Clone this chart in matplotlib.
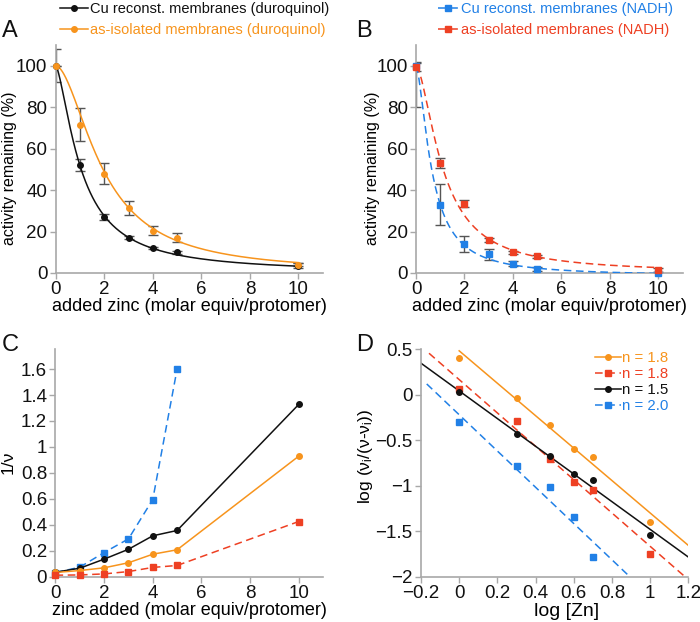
import numpy as np
import matplotlib
matplotlib.use('Agg')
import matplotlib.pyplot as plt
from matplotlib.lines import Line2D

plt.rcParams['font.family'] = ['Liberation Sans', 'DejaVu Sans']
plt.rcParams['mathtext.fontset'] = 'custom'
plt.rcParams['mathtext.rm'] = 'Liberation Sans'
plt.rcParams['mathtext.it'] = 'Liberation Sans:italic'

# ---------------- data ----------------
zinc = [0, 1, 2, 3, 4, 5, 10]

# Panel A (duroquinol)
cu_duro = [100, 52, 27, 17, 12, 10, 3.5]
cu_duro_err = [8, 3, 1.5, 0.8, 0.6, 0.7, 1.2]
iso_duro = [100, 71.5, 48, 31.5, 20.5, 17, 4]
iso_duro_err = [0, 8, 5, 3.3, 2.2, 2.2, 0.8]
# Hill fit parameters (top, bottom, IC50, n)
fit_cu_duro = (100, 0, 1.05, 1.5)
fit_iso_duro = (100, 0, 1.95, 1.8)

# Panel B (NADH)
cu_nadh = [100, 33, 14, 9, 4.5, 2, 0]
cu_nadh_err_lo = [20, 10, 4, 2.5, 1.3, 0.8, 0.3]
cu_nadh_err_hi = [2, 10, 4, 2.5, 1.3, 0.8, 0.3]
iso_nadh = [99.5, 53, 33.5, 16, 10, 8, 1.5]
iso_nadh_err = [2, 2.5, 1.5, 1, 0.7, 0.6, 0.8]
fit_cu_nadh = (100, -1.5, 0.66, 1.6)
fit_iso_nadh = (100, 0, 1.12, 1.65)

# Panel C (1/v)
c_black = [0.033, 0.064, 0.134, 0.21, 0.314, 0.355, 1.327]
c_orange = [0.031, 0.046, 0.067, 0.106, 0.172, 0.206, 0.928]
c_red = [0.01, 0.012, 0.02, 0.038, 0.07, 0.085, 0.424]
zinc_blue = [0, 1, 2, 3, 4, 5]
c_blue = [0.03, 0.072, 0.185, 0.29, 0.594, 1.6]

# Panel D (Hill plot)
logzn = [0, 0.301, 0.477, 0.602, 0.699, 1.0]
d_orange = [0.398, -0.035, -0.33, -0.6, -0.686, -1.40]
d_red = [0.061, -0.29, -0.71, -0.957, -1.05, -1.75]
d_black = [0.031, -0.437, -0.68, -0.869, -0.942, -1.54]
logzn_blue = [0, 0.301, 0.477, 0.602, 0.699]
d_blue = [-0.305, -0.785, -1.01, -1.35, -1.78]
# linear fits: (slope, intercept, x_start, x_end)
fitD_orange = (-1.78, 0.48, 0.0, 1.2)
fitD_red = (-1.83, 0.164, -0.158, 1.2)
fitD_black = (-1.52, 0.04, -0.2, 1.2)
fitD_blue = (-1.99, -0.222, -0.17, 0.9)
d_labels = ['n = 1.8', 'n = 1.8', 'n = 1.5', 'n = 2.0']

legA = ['Cu reconst. membranes (duroquinol)', 'as-isolated membranes (duroquinol)']
legB = ['Cu reconst. membranes (NADH)', 'as-isolated membranes (NADH)']

# ---------------- style ----------------
ORANGE = '#F7941D'
RED = '#EE4023'
BLUE = '#2180E6'
BLACK = '#111111'
AXGRAY = '#A8A8A8'
ERR = '#555555'
DASH = (0, (5, 3))
TICK_FS = 13.5
LAB_FS = 13


def hill(x, p):
    top, bottom, ic50, n = p
    return bottom + (top - bottom) / (1 + (x / ic50) ** n)


def style(ax):
    for s in ['top', 'right']:
        ax.spines[s].set_visible(False)
    for s in ['left', 'bottom']:
        ax.spines[s].set_color(AXGRAY)
        ax.spines[s].set_linewidth(1.2)
    ax.tick_params(direction='out', length=4, width=1, color=AXGRAY,
                   labelsize=TICK_FS, pad=2, labelcolor='#111111')


W, H = 700, 622
fig = plt.figure(figsize=(7, 6.22), dpi=100)


def px_axes(l, t, r, b):
    return fig.add_axes([l / W, 1 - b / H, (r - l) / W, (b - t) / H])


axA = px_axes(55.7, 45, 322.7, 273)
axB = px_axes(416, 45, 682.7, 273)
axC = px_axes(55.5, 349, 323, 576.5)
axD = px_axes(421, 349, 688.3, 576.7)

xs = np.linspace(0, 10, 500)

# ---- A ----
ax = axA
style(ax)
ax.errorbar(zinc, cu_duro, yerr=cu_duro_err, fmt='none', ecolor=ERR,
            elinewidth=1, capsize=3.5, capthick=1, zorder=2)
ax.errorbar(zinc, iso_duro, yerr=iso_duro_err, fmt='none', ecolor=ERR,
            elinewidth=1, capsize=3.5, capthick=1, zorder=2)
ax.plot(xs, hill(xs, fit_cu_duro), color=BLACK, lw=1.1, zorder=3)
ax.plot(xs, hill(xs, fit_iso_duro), color=ORANGE, lw=1.1, zorder=3)
ax.plot(zinc, cu_duro, 'o', color=BLACK, ms=4, zorder=4, clip_on=False)
ax.plot(zinc, iso_duro, 'o', color=ORANGE, ms=4, zorder=4, clip_on=False)
ax.set_xlim(0, 11)
ax.set_ylim(0, 110)
ax.set_xticks([0, 2, 4, 6, 8, 10])
ax.set_yticks([0, 20, 40, 60, 80, 100])
ax.set_xlabel('added zinc (molar equiv/protomer)', fontsize=LAB_FS, labelpad=0)
ax.set_ylabel('activity remaining (%)', fontsize=11.5)
ax.yaxis.set_label_coords(-0.145, 0.46)

hA = [Line2D([0], [0], color=BLACK, lw=1.1, marker='o', ms=4),
      Line2D([0], [0], color=ORANGE, lw=1.1, marker='o', ms=4)]
lg = fig.legend(hA, legA, loc='upper left', bbox_to_anchor=(60 / W, 1 - 2 / H),
                frameon=False, fontsize=10.5, handlelength=1.9, handletextpad=0.15,
                borderpad=0, borderaxespad=0, labelspacing=0.5)
for t, c in zip(lg.get_texts(), [BLACK, ORANGE]):
    t.set_color(c)

# ---- B ----
ax = axB
style(ax)
ax.errorbar(zinc, cu_nadh, yerr=[cu_nadh_err_lo, cu_nadh_err_hi], fmt='none',
            ecolor=ERR, elinewidth=1, capsize=3.5, capthick=1, zorder=2)
ax.errorbar(zinc, iso_nadh, yerr=iso_nadh_err, fmt='none', ecolor=ERR,
            elinewidth=1, capsize=3.5, capthick=1, zorder=2)
ax.plot(xs, hill(xs, fit_cu_nadh), color=BLUE, lw=1.1, ls=DASH, zorder=3)
ax.plot(xs, hill(xs, fit_iso_nadh), color=RED, lw=1.1, ls=DASH, zorder=3)
ax.plot(zinc, cu_nadh, 's', color=BLUE, ms=4.2, zorder=4, clip_on=False)
ax.plot(zinc, iso_nadh, 's', color=RED, ms=4.2, zorder=4, clip_on=False)
ax.set_xlim(0, 11)
ax.set_ylim(0, 110)
ax.set_xticks([0, 2, 4, 6, 8, 10])
ax.set_yticks([0, 20, 40, 60, 80, 100])
ax.set_xlabel('added zinc (molar equiv/protomer)', fontsize=LAB_FS, labelpad=0)
ax.set_ylabel('activity remaining (%)', fontsize=11.5)
ax.yaxis.set_label_coords(-0.135, 0.46)

hB = [Line2D([0], [0], color=BLUE, lw=1.1, ls=DASH, marker='s', ms=4),
      Line2D([0], [0], color=RED, lw=1.1, ls=DASH, marker='s', ms=4)]
lg = fig.legend(hB, legB, loc='upper left', bbox_to_anchor=(438 / W, 1 - 2 / H),
                frameon=False, fontsize=10.5, handlelength=1.4, handletextpad=0.15,
                borderpad=0, borderaxespad=0, labelspacing=0.5)
for t, c in zip(lg.get_texts(), [BLUE, RED]):
    t.set_color(c)

# ---- C ----
ax = axC
style(ax)
ax.plot(zinc_blue, c_blue, color=BLUE, lw=1.1, ls=DASH, marker='s', ms=4.2,
        zorder=3, clip_on=False)
ax.plot(zinc, c_black, color=BLACK, lw=1.1, marker='o', ms=4, zorder=4, clip_on=False)
ax.plot(zinc, c_orange, color=ORANGE, lw=1.1, marker='o', ms=4, zorder=4, clip_on=False)
ax.plot(zinc, c_red, color=RED, lw=1.1, ls=DASH, marker='s', ms=4.2, zorder=4,
        clip_on=False)
ax.set_xlim(0, 11)
ax.set_ylim(0, 1.755)
ax.set_xticks([0, 2, 4, 6, 8, 10])
yt = [0, 0.2, 0.4, 0.6, 0.8, 1.0, 1.2, 1.4, 1.6]
ax.set_yticks(yt)
ax.set_yticklabels(['0', '0.2', '0.4', '0.6', '0.8', '1', '1.2', '1.4', '1.6'])
ax.set_xlabel('zinc added (molar equiv/protomer)', fontsize=LAB_FS, labelpad=0)
ax.set_ylabel('1/ν', fontsize=12.5)
ax.yaxis.set_label_coords(-0.148, 0.5)

# ---- D ----
ax = axD
style(ax)
for (sl, ic, x0, x1), col, ls in [(fitD_orange, ORANGE, '-'), (fitD_red, RED, DASH),
                                  (fitD_black, BLACK, '-'), (fitD_blue, BLUE, DASH)]:
    xx = np.array([x0, x1])
    ax.plot(xx, sl * xx + ic, color=col, lw=1.1, ls=ls, zorder=2)
ax.plot(logzn, d_orange, 'o', color=ORANGE, ms=4, zorder=4)
ax.plot(logzn, d_red, 's', color=RED, ms=4.2, zorder=4)
ax.plot(logzn, d_black, 'o', color=BLACK, ms=4, zorder=5)
ax.plot(logzn_blue, d_blue, 's', color=BLUE, ms=4.2, zorder=4)
ax.set_xlim(-0.2, 1.2)
ax.set_ylim(-2, 0.5)
xt = [-0.2, 0, 0.2, 0.4, 0.6, 0.8, 1.0, 1.2]
ax.set_xticks(xt)
ax.set_xticklabels(['\u22120.2', '0', '0.2', '0.4', '0.6', '0.8', '1', '1.2'])
ytd = [-2, -1.5, -1, -0.5, 0, 0.5]
ax.set_yticks(ytd)
ax.set_yticklabels(['\u22122', '\u22121.5', '\u22121', '\u22120.5', '0', '0.5'])
ax.set_xlabel('log [Zn]', fontsize=14)
ax.xaxis.set_label_coords(0.546, -0.115)
ax.set_ylabel('log (ν$_\\mathregular{i}$/(ν-ν$_\\mathregular{i}$))', fontsize=12.5)
ax.yaxis.set_label_coords(-0.172, 0.53)

hD = [Line2D([0], [0], color=ORANGE, lw=1.1, marker='o', ms=4),
      Line2D([0], [0], color=RED, lw=1.1, ls=DASH, marker='s', ms=4),
      Line2D([0], [0], color=BLACK, lw=1.1, marker='o', ms=4),
      Line2D([0], [0], color=BLUE, lw=1.1, ls=DASH, marker='s', ms=4)]
lg = ax.legend(hD, d_labels, loc='upper left',
               bbox_to_anchor=((595 - 421) / 267.3, 1 - 2 / 227.7),
               frameon=False, fontsize=10.8, handlelength=1.7, handletextpad=0.1,
               borderpad=0, borderaxespad=0, labelspacing=0.13)
for t, c in zip(lg.get_texts(), [ORANGE, RED, BLACK, BLUE]):
    t.set_color(c)

# panel letters
for lab, x, y in [('A', 2, 37), ('B', 356, 37), ('C', 2, 351), ('D', 356, 351)]:
    fig.text(x / W, 1 - y / H, lab, fontsize=17, ha='left', va='baseline', color='#111111')

fig.savefig('out.png', dpi=100)
